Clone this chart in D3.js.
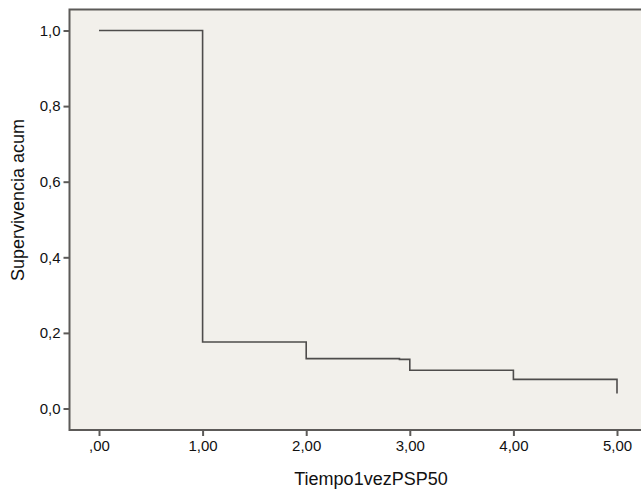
<!DOCTYPE html>
<html>
<head>
<meta charset="utf-8">
<script src="https://cdn.jsdelivr.net/npm/d3@7"></script>
<style>
  body { margin: 0; background: #fff; }
  svg text { font-family: "Liberation Sans", Arial, sans-serif; fill: #111; }
</style>
</head>
<body>
<div id="chart"></div>
<script>
// survival steps
const times = [0, 1, 2, 2.9, 3, 4, 5];
const survival = [1.0, 0.176, 0.132, 0.130, 0.101, 0.077, 0.040];

const xTicks = [0, 1, 2, 3, 4, 5];
const xTickLabels = [',00', '1,00', '2,00', '3,00', '4,00', '5,00'];
const yTicks = [0, 0.2, 0.4, 0.6, 0.8, 1.0];
const yTickLabels = ['0,0', '0,2', '0,4', '0,6', '0,8', '1,0'];

const xTitle = 'Tiempo1vezPSP50';
const yTitle = 'Supervivencia acum';

let width = 641, height = 490;
// plot frame
let frame = {left: 69.5, top: 9.5, right: 646, bottom: 430};

let sx = d3.scaleLinear().domain([0, 5]).range([99, 617]);
let sy = d3.scaleLinear().domain([0, 1]).range([408.5, 30.5]);

let svg = d3.select('#chart')
  .append('svg')
    .attr('width', width)
    .attr('height', height);

svg.append('rect')
  .attr('x', frame.left)
  .attr('y', frame.top)
  .attr('width', frame.right - frame.left)
  .attr('height', frame.bottom - frame.top)
  .attr('fill', '#f2f0eb')
  .attr('stroke', '#5c5a58')
  .attr('stroke-width', 2);

let x_axis = d3.axisBottom(sx)
  .tickValues(xTicks)
  .tickSize(6)
  .tickPadding(4)
  .tickFormat((d, i) => xTickLabels[i]);

let y_axis = d3.axisLeft(sy)
  .tickValues(yTicks)
  .tickSize(6)
  .tickPadding(3)
  .tickFormat((d, i) => yTickLabels[i]);

let gx = svg.append('g')
  .attr('class', 'x axis')
  .attr('transform', `translate(0,${frame.bottom})`)
  .call(x_axis);

let gy = svg.append('g')
  .attr('class', 'y axis')
  .attr('transform', `translate(${frame.left},0)`)
  .call(y_axis);

for (let g of [gx, gy]) {
  g.select('.domain').remove();
  g.selectAll('.tick line').attr('stroke', '#5c5a58').attr('stroke-width', 2);
  g.selectAll('.tick text').style('font-size', '15px').attr('fill', '#111');
}

let line = d3.line()
  .x((d, i) => sx(times[i]))
  .y(d => sy(d))
  .curve(d3.curveStepAfter);

svg.append('path')
  .datum(survival)
  .attr('d', line)
  .attr('fill', 'none')
  .attr('stroke', '#4e4c4b')
  .attr('stroke-width', 1.6);

svg.append('text')
  .attr('x', 371)
  .attr('y', 485)
  .style('text-anchor', 'middle')
  .style('font-size', '18px')
  .text(xTitle);

svg.append('text')
  .attr('transform', 'rotate(-90)')
  .attr('x', -200)
  .attr('y', 24)
  .style('text-anchor', 'middle')
  .style('font-size', '18px')
  .text(yTitle);
</script>
</body>
</html>
